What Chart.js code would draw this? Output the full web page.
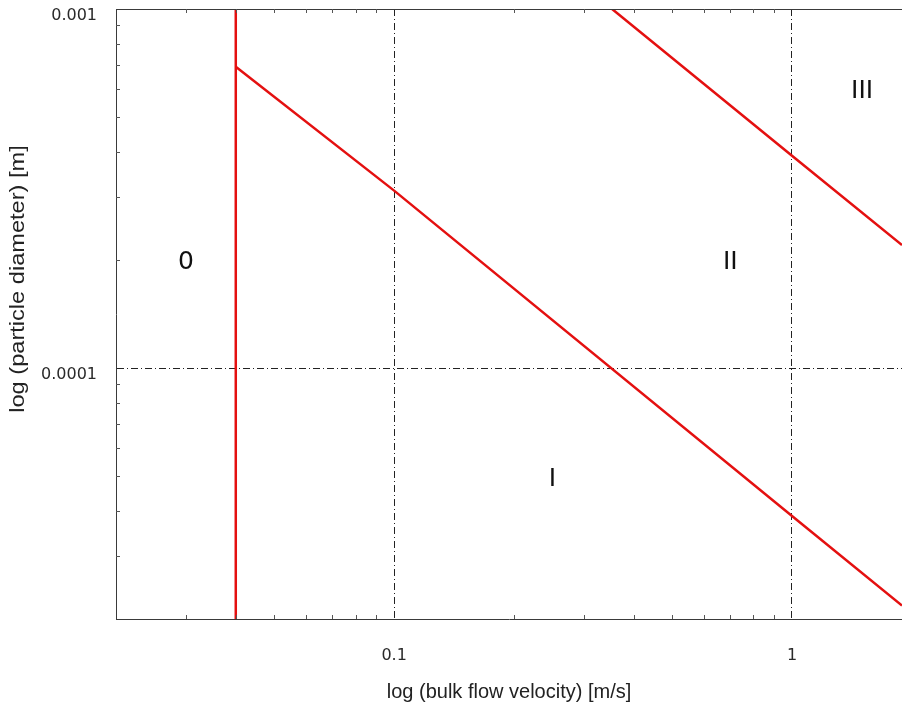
<!DOCTYPE html>
<html>
<head>
<meta charset="utf-8">
<script src="https://cdn.jsdelivr.net/npm/chart.js@4/dist/chart.umd.min.js"></script>
<style>
  html, body { margin: 0; padding: 0; background: #fff; }
  canvas { display: block; }
</style>
</head>
<body>
<canvas id="c" width="902" height="708"></canvas>
<script>
// ---- Data ----
const xMajorTicks = [0.1, 1];
const yMajorTicks = [0.0001, 0.001];
const xMinorTicks = [0.03, 0.04, 0.05, 0.06, 0.07, 0.08, 0.09, 0.2, 0.3, 0.4, 0.5, 0.6, 0.7, 0.8, 0.9];
const yMinorTicks = [0.00003, 0.00004, 0.00005, 0.00006, 0.00007, 0.00008, 0.00009,
                     0.0002, 0.0003, 0.0004, 0.0005, 0.0006, 0.0007, 0.0008, 0.0009];

// regime boundary: vertical line 0 | I,II
const boundary0X = [0.04, 0.04];
const boundary0Y = [0.00002, 0.001];
// regime boundary I | II
const boundaryIX = [0.04, 0.1, 1, 1.89];
const boundaryIY = [0.00069, 0.000312, 0.0000387, 0.0000218];
// regime boundary II | III
const boundaryIIX = [0.353, 1, 1.89];
const boundaryIIY = [0.001, 0.00039, 0.00022];

// region labels
const regionNames = ["0", "I", "II", "III"];
const regionX = [0.03, 0.25, 0.7, 1.5];
const regionY = [0.0002, 0.00005, 0.0002, 0.0006];

const xTitle = "log (bulk flow velocity) [m/s]";
const yTitle = "log (particle diameter) [m]";

const toPts = (xs, ys) => xs.map((x, i) => ({ x: x, y: ys[i] }));

const FONT = '"Liberation Sans", Arial, sans-serif';
const TICKFONT = '"DejaVu Sans", Verdana, sans-serif';
const RED = '#e41010';
const AXIS = '#3a3a3a';

const extras = {
  id: 'extras',
  afterDraw(chart) {
    const { ctx, chartArea: a, scales } = chart;
    const xs = scales.x, ys = scales.y;
    ctx.save();
    // top border
    ctx.strokeStyle = AXIS;
    ctx.lineWidth = 1;
    ctx.beginPath();
    ctx.moveTo(a.left, Math.round(a.top) + 0.5);
    ctx.lineTo(a.right, Math.round(a.top) + 0.5);
    ctx.stroke();
    // inward minor ticks
    ctx.strokeStyle = '#555';
    ctx.beginPath();
    xMinorTicks.forEach(v => {
      const px = Math.round(xs.getPixelForValue(v)) + 0.5;
      ctx.moveTo(px, a.bottom); ctx.lineTo(px, a.bottom - 4);
      ctx.moveTo(px, a.top); ctx.lineTo(px, a.top + 4);
    });
    yMinorTicks.forEach(v => {
      const py = Math.round(ys.getPixelForValue(v)) + 0.5;
      ctx.moveTo(a.left, py); ctx.lineTo(a.left + 4, py);
    });
    ctx.stroke();
    // region labels
    ctx.fillStyle = '#111';
    ctx.font = '25px ' + TICKFONT;
    ctx.textAlign = 'center';
    ctx.textBaseline = 'middle';
    regionNames.forEach((t, i) => {
      ctx.fillText(t, xs.getPixelForValue(regionX[i]), ys.getPixelForValue(regionY[i]) + 3);
    });
    // y axis title
    ctx.font = '20px ' + FONT;
    ctx.fillStyle = '#222';
    ctx.translate(18, 279);
    ctx.rotate(-Math.PI / 2);
    ctx.scale(1.18, 1);
    ctx.fillText(yTitle, 0, 0);
    ctx.restore();
  }
};

new Chart(document.getElementById('c'), {
  type: 'scatter',
  data: {
    datasets: [
      { data: toPts(boundary0X, boundary0Y) },
      { data: toPts(boundaryIX, boundaryIY) },
      { data: toPts(boundaryIIX, boundaryIIY) }
    ].map(d => Object.assign(d, {
      showLine: true, borderColor: RED, borderWidth: 2.5,
      pointRadius: 0, fill: false, tension: 0
    }))
  },
  options: {
    responsive: false,
    animation: false,
    devicePixelRatio: 1,
    layout: { padding: { top: 9, left: 0, right: 0, bottom: 0 } },
    plugins: { legend: { display: false }, tooltip: { enabled: false } },
    scales: {
      x: {
        type: 'logarithmic',
        min: 0.02, max: 1.89,
        afterBuildTicks: s => { s.ticks = xMajorTicks.map(v => ({ value: v })); },
        afterFit: s => { s.height = 89; s.paddingLeft = 0; s.paddingRight = 0; },
        ticks: { callback: v => String(v), font: { size: 16, family: TICKFONT }, color: '#2a2a2a', padding: 27, maxRotation: 0, autoSkip: false },
        grid: { color: '#222', lineWidth: 1, drawTicks: false },
        border: { display: true, color: AXIS, width: 1, dash: [7, 3, 1, 3] },
        title: { display: true, text: xTitle, font: { size: 20, family: FONT }, color: '#222', padding: { top: 0, bottom: 4 } }
      },
      y: {
        type: 'logarithmic',
        min: 0.00002, max: 0.001,
        afterBuildTicks: s => { s.ticks = yMajorTicks.map(v => ({ value: v })); },
        afterFit: s => { s.width = 116; s.paddingTop = 0; s.paddingBottom = 0; },
        ticks: { callback: v => String(v), font: { size: 16, family: TICKFONT }, color: '#2a2a2a', padding: 19, labelOffset: 6.5, autoSkip: false },
        grid: { color: ctx => (ctx.tick && ctx.tick.value === 0.001) ? 'rgba(0,0,0,0)' : '#222', lineWidth: 1, drawTicks: false },
        border: { display: true, color: AXIS, width: 1, dash: [7, 3, 1, 3] }
      }
    }
  },
  plugins: [extras]
});
</script>
</body>
</html>
